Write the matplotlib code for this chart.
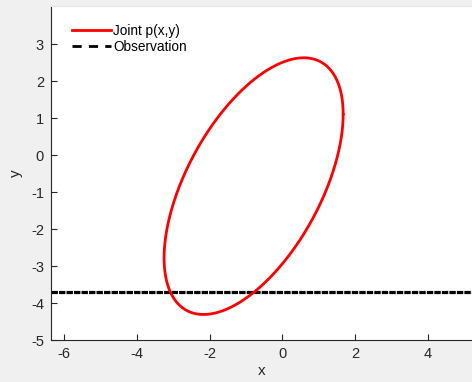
import numpy as np
import matplotlib
matplotlib.use("Agg")
import matplotlib.pyplot as plt

plt.rcParams['font.family'] = ['Liberation Sans', 'DejaVu Sans']
plt.rcParams['axes.unicode_minus'] = False

# Gaussian joint density contour: mean, extents along x/y, correlation
joint_mean = [-0.79, -0.84]
joint_extent = [2.46, 3.47]
joint_rho = 0.56

# Observed y value
observation_y = -3.70

x_ticks = [-6, -4, -2, 0, 2, 4]
y_ticks = [-5, -4, -3, -2, -1, 0, 1, 2, 3]

W, H = 472, 382
fig = plt.figure(figsize=(W / 100, H / 100), dpi=100, facecolor='#f0f0f0')
ax = fig.add_axes([51 / W, (H - 340) / H, (W - 51) / W, 334 / H])
ax.set_facecolor('white')

t = np.linspace(0, 2 * np.pi, 400)
ex = joint_mean[0] + joint_extent[0] * np.cos(t)
ey = joint_mean[1] + joint_extent[1] * (joint_rho * np.cos(t) + np.sqrt(1 - joint_rho ** 2) * np.sin(t))
ax.plot(ex, ey, color='red', lw=2.0, label='Joint p(x,y)', zorder=3,
        solid_joinstyle='round', solid_capstyle='round')

ax.axhline(observation_y, color='black', lw=2.3, linestyle=(0, (2.0, 0.35)),
           label='Observation', zorder=2)

ax.set_xlim(-6.357, 5.21)
ax.set_ylim(-5, 4.03)
ax.set_xticks(x_ticks)
ax.set_yticks(y_ticks)

dark = '#262626'
for side in ['left', 'bottom']:
    ax.spines[side].set_color(dark)
    ax.spines[side].set_linewidth(0.8)
ax.spines['right'].set_visible(False)
ax.spines['top'].set_color('#e6e6e6')
ax.spines['top'].set_linewidth(0.8)
ax.tick_params(direction='in', length=4, width=0.8, colors=dark, labelsize=10.5,
               top=False, right=False, pad=5)
ax.set_xlabel('x', fontsize=11, color=dark, labelpad=2)
ax.set_ylabel('y', fontsize=11, color=dark, labelpad=6)

leg_handles = [
    plt.Line2D([], [], color='red', lw=2.0),
    plt.Line2D([], [], color='black', lw=2.0, linestyle=(0, (3.3, 2.6))),
]
ax.legend(leg_handles, ['Joint p(x,y)', 'Observation'], loc='upper left',
          frameon=False, fontsize=9.8, handlelength=2.85, handletextpad=0.15,
          labelspacing=0.12, borderaxespad=0.0, bbox_to_anchor=(0.038, 0.962))

fig.savefig('out.png', dpi=100, facecolor=fig.get_facecolor())
